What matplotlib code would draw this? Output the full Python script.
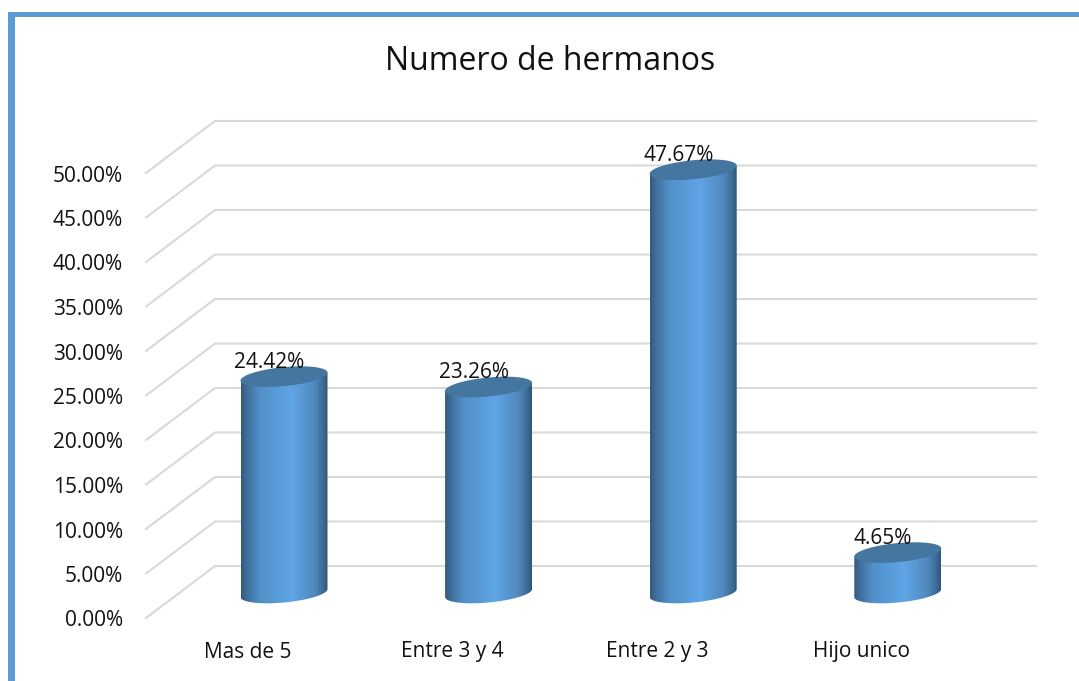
import numpy as np
import matplotlib
matplotlib.use("Agg")
import matplotlib.pyplot as plt
from matplotlib.colors import LinearSegmentedColormap
from matplotlib.patches import Polygon, Rectangle

categorias = ["Mas de 5", "Entre 3 y 4", "Entre 2 y 3", "Hijo unico"]
valores = [24.42, 23.26, 47.67, 4.65]
etiquetas = ["24.42%", "23.26%", "47.67%", "4.65%"]
ticks = [0, 5, 10, 15, 20, 25, 30, 35, 40, 45, 50]
tick_labels = ["0.00%", "5.00%", "10.00%", "15.00%", "20.00%", "25.00%",
               "30.00%", "35.00%", "40.00%", "45.00%", "50.00%"]

plt.rcParams["font.family"] = ["Open Sans", "DejaVu Sans"]

W, H = 1079, 681
PX_X = 204.6   # pixeles por categoria
PX_Y = 8.9     # pixeles por 1%
X0, Y0 = 284, 618

fig = plt.figure(figsize=(W / 100, H / 100), dpi=100, facecolor="white")
ax = fig.add_axes([0, 0, 1, 1])
ax.axis("off")

# marco azul
azul = "#5b9bd5"
fig.add_artist(Rectangle((8 / W, 0), 7 / W, 1 - 12 / H, transform=fig.transFigure, color=azul, lw=0))
fig.add_artist(Rectangle((8 / W, 1 - 17 / H), 1 - 8 / W, 5 / H, transform=fig.transFigure, color=azul, lw=0))

# lineas de la rejilla (pared lateral y pared del fondo)
x_frente = (146 - X0) / PX_X
x_fondo = (215 - X0) / PX_X
x_fin = (1036 - X0) / PX_X
dy_fondo = 52 / PX_Y
for t, lab in zip(ticks, tick_labels):
    ax.plot([x_frente, x_fondo, x_fin], [t, t + dy_fondo, t + dy_fondo],
            color="#d9d9d9", lw=1.5, zorder=1, solid_joinstyle="miter")
    ax.text((123 - X0) / PX_X, t - 3 / PX_Y, lab, ha="right", va="center", fontsize=15, color="#111111")

# cilindros
cmap = LinearSegmentedColormap.from_list("cil", [
    (0.0, "#34597c"), (0.08, "#4272a0"), (0.22, "#5190c8"), (0.58, "#5fa5e6"),
    (0.85, "#5088bd"), (0.95, "#3c6a94"), (1.0, "#2f5577")])
grad = np.linspace(0, 1, 256).reshape(1, -1)

a = 43.5 / PX_X
b = 9.5 / PX_Y
s = 4 / PX_Y
base = 25 / PX_Y
t_ang = np.linspace(0, 2 * np.pi, 200)
t_abajo = np.linspace(np.pi, 2 * np.pi, 100)

for i, v in enumerate(valores):
    y_top = v + 2.7
    xs_base = i + a * np.cos(t_abajo)
    ys_base = base + b * np.sin(t_abajo) + s * np.cos(t_abajo)
    xs_top = i + a * np.cos(t_ang)
    ys_top = y_top + b * np.sin(t_ang) + s * np.cos(t_ang)

    cuerpo = Polygon(np.r_[np.c_[xs_base, ys_base], [[i + a, y_top + s]], [[i - a, y_top - s]]],
                     closed=True, transform=ax.transData, fc="none", ec="none")
    ax.add_patch(cuerpo)
    im = ax.imshow(grad, cmap=cmap, aspect="auto", zorder=2,
                   extent=[i - a, i + a, 0, y_top + 2])
    im.set_clip_path(cuerpo)

    ax.add_patch(Polygon(np.c_[xs_top, ys_top], closed=True, fc="#44769f", ec="none", zorder=3))
    ax.text(i - 15 / PX_X, v + 38.5 / PX_Y, etiquetas[i], ha="center", va="center",
            fontsize=15, color="#111111", zorder=4)
    ax.text(i - 36 / PX_X, -34 / PX_Y, categorias[i], ha="center", va="center",
            fontsize=15, color="#111111")

ax.set_xlim(-X0 / PX_X, (W - X0) / PX_X)
ax.set_ylim((Y0 - H) / PX_Y, Y0 / PX_Y)

fig.text(550 / W, 1 - 61.5 / H, "Numero de hermanos", ha="center", va="center",
         fontsize=23, color="#111111")

fig.savefig("out.png", dpi=100)
